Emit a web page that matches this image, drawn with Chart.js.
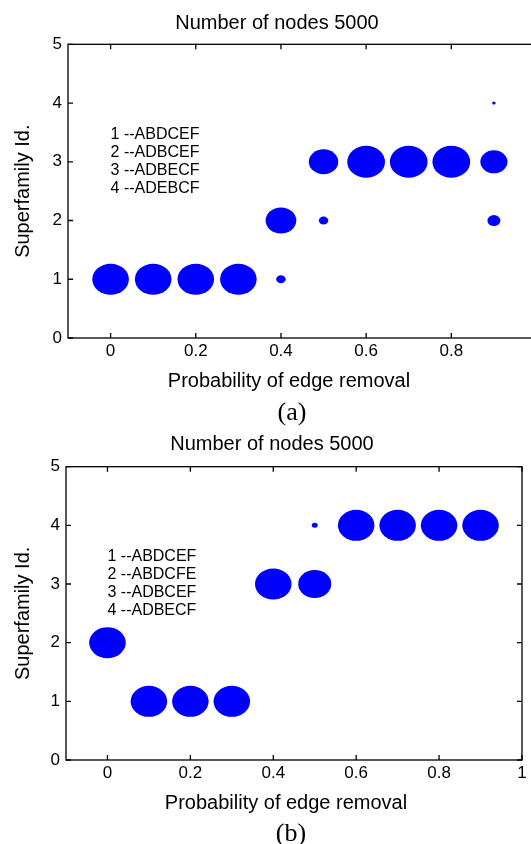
<!DOCTYPE html>
<html>
<head>
<meta charset="utf-8">
<script src="https://cdn.jsdelivr.net/npm/chart.js@4.4.1/dist/chart.umd.min.js"></script>
<style>
  html, body { margin: 0; padding: 0; background: #fff; width: 531px; height: 844px; overflow: hidden; position: relative; }
  canvas { position: absolute; left: 0; }
  #chartA { top: 0; }
  #chartB { top: 420px; }
  .cap { position: absolute; width: 80px; text-align: center; line-height: 30px; height: 30px;
         font: 26px "Liberation Serif", "DejaVu Serif", serif; color: #000; }
  #capA { left: 252px; top: 397px; }
  #capB { left: 251px; top: 818px; }
</style>
</head>
<body>
<canvas id="chartA" width="545" height="420"></canvas>
<canvas id="chartB" width="531" height="424"></canvas>
<div class="cap" id="capA">(a)</div>
<div class="cap" id="capB">(b)</div>
<script>
// shared axes
var xTicks = [0, 0.2, 0.4, 0.6, 0.8, 1];
var yTicks = [0, 1, 2, 3, 4, 5];
var chartTitle = 'Number of nodes 5000';
var xTitle = 'Probability of edge removal';
var yTitle = 'Superfamily Id.';

// (a)
var xA = [0, 0.1, 0.2, 0.3, 0.4, 0.4, 0.5, 0.5, 0.6, 0.7, 0.8, 0.9, 0.9, 0.9];
var yA = [1, 1, 1, 1, 1, 2, 2, 3, 3, 3, 3, 2, 3, 4];
var sizeA = [15.5, 15.5, 15.5, 15.5, 4, 13, 4, 12.5, 16, 16, 16, 5.5, 11.5, 1.5];
var notesA = ['1 --ABDCEF', '2 --ADBCEF', '3 --ADBECF', '4 --ADEBCF'];

// (b)
var xB = [0, 0.1, 0.2, 0.3, 0.4, 0.5, 0.5, 0.6, 0.7, 0.8, 0.9];
var yB = [2, 1, 1, 1, 3, 3, 4, 4, 4, 4, 4];
var sizeB = [15.5, 15.5, 15.5, 15.5, 15.5, 14, 2.5, 15.5, 15.5, 15.5, 15.5];
var notesB = ['1 --ABDCEF', '2 --ABDCFE', '3 --ADBCEF', '4 --ADBECF'];

Chart.defaults.color = '#000';
Chart.defaults.font.family = '"Liberation Sans", Arial, sans-serif';

// matlab scatter markers come out as ellipses after the figure was stretched
var ellipses = {
    id: 'ellipses',
    afterDatasetsDraw: function (chart) {
        var ctx = chart.ctx;
        ctx.save();
        chart.data.datasets.forEach(function (ds, i) {
            chart.getDatasetMeta(i).data.forEach(function (el) {
                var ry = el.options.radius;
                ctx.beginPath();
                ctx.ellipse(el.x, el.y, ry * 1.18, ry, 0, 0, Math.PI * 2);
                ctx.fillStyle = ds.fillColor;
                ctx.fill();
            });
        });
        ctx.restore();
    }
};

// box round the plot and ticks pointing inwards
var frameTicks = {
    id: 'frameTicks',
    afterDraw: function (chart) {
        var ctx = chart.ctx, a = chart.chartArea;
        var xs = chart.scales.x, ys = chart.scales.y;
        ctx.save();
        ctx.strokeStyle = '#000';
        ctx.lineWidth = 1.3;
        ctx.strokeRect(a.left, a.top, a.right - a.left, a.bottom - a.top);
        ctx.beginPath();
        xs.ticks.forEach(function (t) {
            var px = xs.getPixelForValue(t.value);
            ctx.moveTo(px, a.bottom); ctx.lineTo(px, a.bottom - 5);
            ctx.moveTo(px, a.top); ctx.lineTo(px, a.top + 5);
        });
        ys.ticks.forEach(function (t) {
            var py = ys.getPixelForValue(t.value);
            ctx.moveTo(a.left, py); ctx.lineTo(a.left + 5, py);
            ctx.moveTo(a.right, py); ctx.lineTo(a.right - 5, py);
        });
        ctx.stroke();
        ctx.restore();
    }
};

// the text block inside the plot, placed at data coords
var note = {
    id: 'note',
    afterDraw: function (chart, args, opts) {
        if (!opts.lines) return;
        var ctx = chart.ctx;
        var px = chart.scales.x.getPixelForValue(opts.x);
        var py = chart.scales.y.getPixelForValue(opts.y);
        var step = 18;
        ctx.save();
        ctx.font = '16px "Liberation Sans", Arial, sans-serif';
        ctx.fillStyle = '#000';
        ctx.textAlign = 'left';
        ctx.textBaseline = 'middle';
        opts.lines.forEach(function (s, i) {
            ctx.fillText(s, px, py + (i - (opts.lines.length - 1) / 2) * step);
        });
        ctx.restore();
    }
};

// x label sits a bit left of the plot centre in the original figure
var xlabel = {
    id: 'xlabel',
    afterDraw: function (chart, args, opts) {
        var ctx = chart.ctx, a = chart.chartArea;
        ctx.save();
        ctx.font = '20px "Liberation Sans", Arial, sans-serif';
        ctx.fillStyle = '#000';
        ctx.textAlign = 'center';
        ctx.textBaseline = 'middle';
        ctx.fillText(opts.text, opts.cx, a.bottom + 43);
        ctx.restore();
    }
};

function makeChart(id, xs, ys, sizes, notes, pad, leftW, titlePad, labelX) {
    var pts = xs.map(function (x, i) { return { x: x, y: ys[i], r: sizes[i] }; });
    var ctx = document.getElementById(id).getContext('2d');
    return new Chart(ctx, {
        type: 'bubble',
        data: {
            datasets: [{
                data: pts,
                backgroundColor: 'rgba(0,0,0,0)',
                borderWidth: 0,
                fillColor: '#0000ff'
            }]
        },
        options: {
            responsive: false,
            animation: false,
            events: [],
            layout: { autoPadding: false, padding: { left: pad[0], right: pad[1], top: 0, bottom: pad[2] } },
            scales: {
                x: {
                    type: 'linear', min: -0.1, max: 1,
                    afterBuildTicks: function (s) { s.ticks = xTicks.map(function (v) { return { value: v }; }); },
                    afterFit: function (s) { s.height = 61; s.paddingLeft = 0; s.paddingRight = 0; },
                    grid: { display: false, drawTicks: false },
                    border: { display: false },
                    ticks: { padding: 3, maxRotation: 0, autoSkip: false, font: { size: 17 },
                        callback: function (v) { return String(v); } },
                    title: { display: false }
                },
                y: {
                    type: 'linear', min: 0, max: 5,
                    afterBuildTicks: function (s) { s.ticks = yTicks.map(function (v) { return { value: v }; }); },
                    afterFit: function (s) { s.width = leftW; },
                    grid: { display: false, drawTicks: false },
                    border: { display: false },
                    ticks: { padding: 6, font: { size: 17 } },
                    title: { display: true, text: yTitle, font: { size: 20 }, padding: { top: 11 - pad[0], bottom: 0 } }
                }
            },
            plugins: {
                legend: { display: false },
                tooltip: { enabled: false },
                title: { display: true, text: chartTitle, font: { size: 20, weight: 'normal' },
                    padding: { top: titlePad[0], bottom: titlePad[1] } },
                note: { lines: notes, x: 0, y: 3 },
                xlabel: { text: xTitle, cx: labelX }
            }
        },
        plugins: [ellipses, frameTicks, note, xlabel]
    });
}

window.onload = function () {
    makeChart('chartA', xA, yA, sizeA, notesA, [17.5, 8.5, 21], 50.5, [11, 9.3], 289);
    makeChart('chartB', xB, yB, sizeB, notesB, [22, 9, 23], 44, [12, 10.7], 286);
};
</script>
</body>
</html>
